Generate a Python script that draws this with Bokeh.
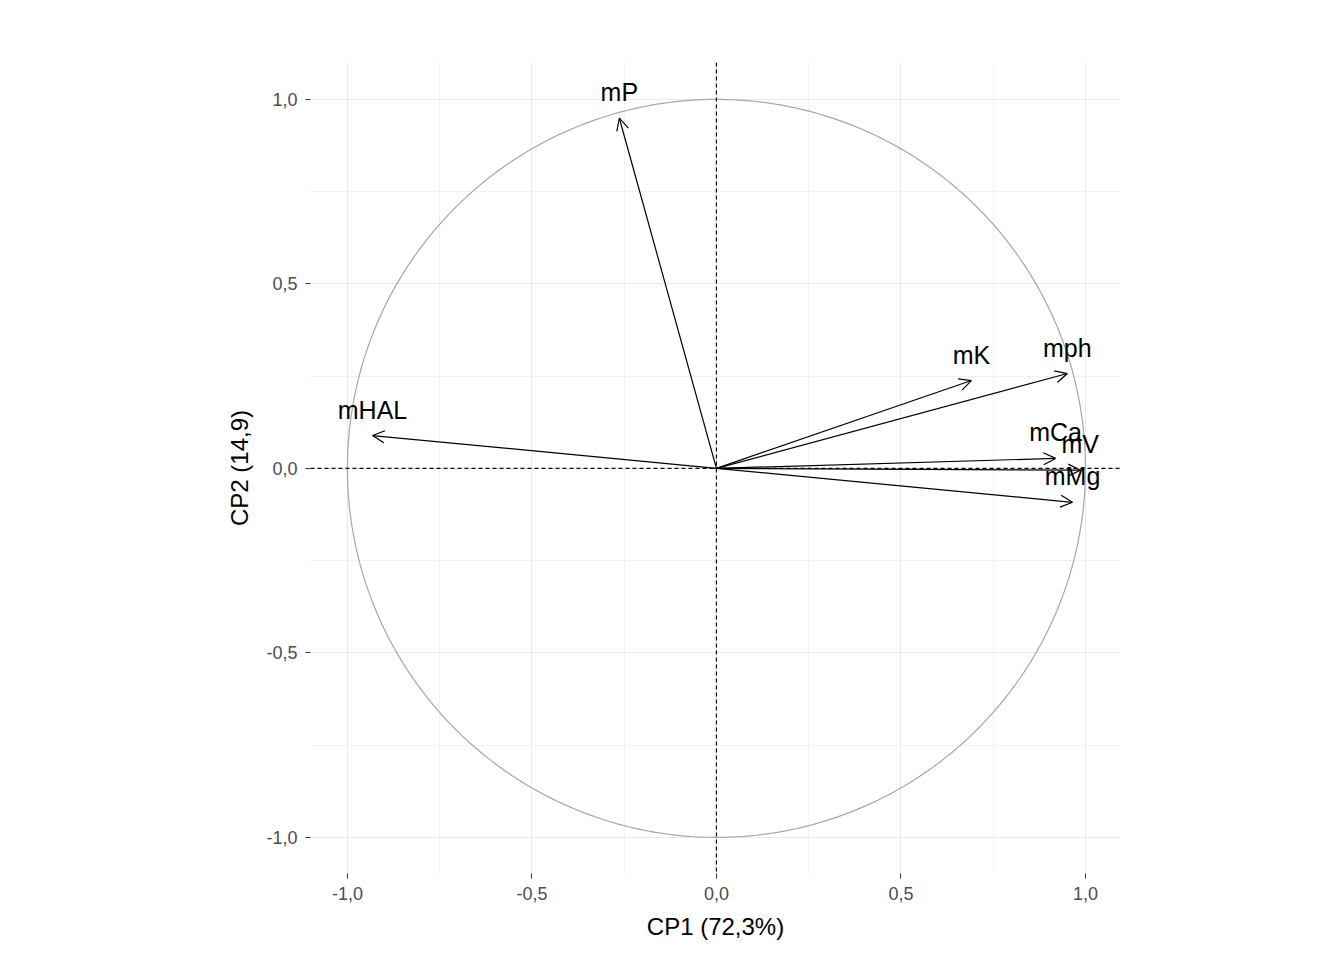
import numpy as np
from bokeh.plotting import figure
from bokeh.models import ColumnDataSource, Arrow, OpenHead, Span, FixedTicker, Range1d
from bokeh.core.properties import value
from bokeh.embed import file_html
from bokeh.resources import INLINE

variables = ["mP", "mK", "mph", "mHAL", "mCa", "mV", "mMg"]
cp1 = [-0.263, 0.691, 0.951, -0.932, 0.919, 0.986, 0.965]
cp2 = [0.949, 0.238, 0.257, 0.089, 0.027, -0.005, -0.092]
ticks = [-1.0, -0.5, 0.0, 0.5, 1.0]
tick_labels = ["-1,0", "-0,5", "0,0", "0,5", "1,0"]
minor = [-0.75, -0.25, 0.25, 0.75]

p = figure(width=1328, height=944, output_backend="svg", toolbar_location=None,
           x_range=Range1d(-1.1, 1.095), y_range=Range1d(-1.098, 1.1),
           min_border_left=310, min_border_right=208, min_border_top=62, min_border_bottom=71,
           x_axis_label="CP1 (72,3%)", y_axis_label="CP2 (14,9)")
p.outline_line_color = None
p.background_fill_color = "white"

for ax in (p.xaxis, p.yaxis):
    ax.ticker = FixedTicker(ticks=ticks, minor_ticks=minor)
    ax.major_label_overrides = {t: l for t, l in zip(ticks, tick_labels)}
    ax.axis_line_color = None
    ax.minor_tick_line_color = None
    ax.major_tick_line_color = "#333333"
    ax.major_tick_in = 0
    ax.major_tick_out = 5
    ax.major_label_standoff = 8
    ax.major_label_text_font = "Liberation Sans"
    ax.major_label_text_font_size = "18px"
    ax.major_label_text_color = "#4D4D4D"
    ax.axis_label_text_font = "Liberation Sans"
    ax.axis_label_text_font_size = "24px"
    ax.axis_label_text_font_style = "normal"
    ax.axis_label_text_color = "black"
    ax.axis_label_standoff = 10

for g in (p.xgrid, p.ygrid):
    g.grid_line_color = "#EBEBEB"
    g.minor_grid_line_color = "#F2F2F2"

theta = np.linspace(0, 2 * np.pi, 400)
p.line(np.cos(theta), np.sin(theta), line_color="#A6A6A6", line_width=1.2)

p.add_layout(Span(location=0, dimension="width", line_dash="4 3", line_color="black", line_width=1.2))
p.add_layout(Span(location=0, dimension="height", line_dash="4 3", line_color="black", line_width=1.2))

src = ColumnDataSource(dict(x0=[0] * len(cp1), y0=[0] * len(cp1), x=cp1, y=cp2, name=variables))
p.add_layout(Arrow(end=OpenHead(size=12, line_width=1.2), x_start="x0", y_start="y0",
                   x_end="x", y_end="y", line_width=1.2, source=src))
p.text(x="x", y="y", text="name", source=src, y_offset=-12, text_align="center",
       text_baseline="bottom", text_font=value("Liberation Sans"), text_font_size="25px",
       text_color="black")

open("out.html", "w").write(file_html(p, INLINE))
